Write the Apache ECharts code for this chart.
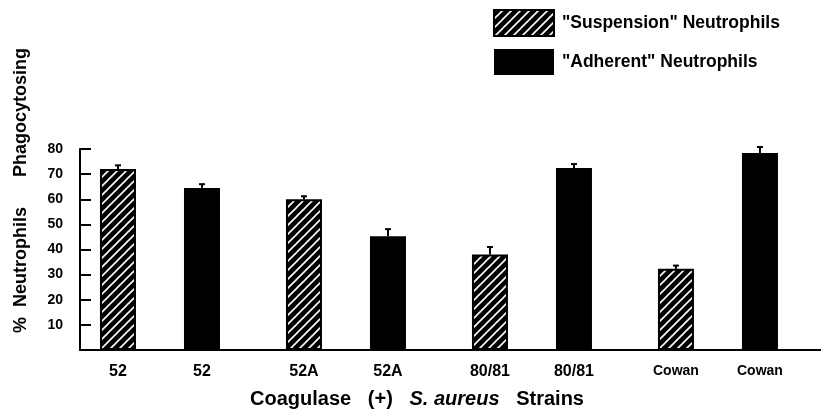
<!DOCTYPE html>
<html><head><meta charset="utf-8">
<script src="https://cdn.jsdelivr.net/npm/echarts@6/dist/echarts.min.js"></script>
<style>html,body{margin:0;padding:0;background:#fff}#c{width:821px;height:419px}</style>
</head><body><div id="c"></div>
<script>
// ---- data ----
const strainLabels = ['52', '52A', '80/81', 'Cowan'];
const groupIndex = [0, 1, 2, 3];
const suspensionValues = [72, 60, 38, 32.3];
const suspensionErr = [1.5, 1.2, 3, 1.3];
const adherentValues = [64.5, 45.3, 72.4, 78.4];
const adherentErr = [1.5, 2.8, 1.6, 2.4];
const yTicks = [10, 20, 30, 40, 50, 60, 70, 80];
const seriesNames = ['"Suspension" Neutrophils', '"Adherent" Neutrophils'];

const FONT = 'Liberation Sans';
const BAR_W = 36, GAP = 48;
const OFFSET = (BAR_W + GAP) / 2;

function hatch() {
  const s = 9;
  const c = document.createElement('canvas'); c.width = s; c.height = s;
  const g = c.getContext('2d');
  g.fillStyle = '#000'; g.fillRect(0, 0, s, s);
  g.strokeStyle = '#fff'; g.lineWidth = 1.6;
  g.beginPath(); g.moveTo(-1, s + 1); g.lineTo(s + 1, -1); g.stroke();
  g.beginPath(); g.moveTo(-1, 1); g.lineTo(1, -1); g.stroke();
  g.beginPath(); g.moveTo(s - 1, s + 1); g.lineTo(s + 1, s - 1); g.stroke();
  return c;
}
const hatchFill = { image: hatch(), repeat: 'repeat' };

function errSeries(vals, errs, sign) {
  return {
    type: 'custom',
    data: groupIndex.map((x, i) => [x, vals[i], errs[i]]),
    z: 5,
    silent: true,
    renderItem(params, api) {
      const x = api.value(0), v = api.value(1), e = api.value(2);
      const p0 = api.coord([x, v]), p1 = api.coord([x, v + e]);
      const cx = p0[0] + sign * OFFSET;
      return { type: 'group', children: [
        { type: 'line', shape: { x1: cx, y1: p0[1], x2: cx, y2: p1[1] }, style: { stroke: '#000', lineWidth: 2 } },
        { type: 'line', shape: { x1: cx - 3, y1: p1[1], x2: cx + 3, y2: p1[1] }, style: { stroke: '#000', lineWidth: 2 } }
      ]};
    }
  };
}

const chart = echarts.init(document.getElementById('c'), null, { renderer: 'canvas' });
chart.setOption({
  animation: false,
  backgroundColor: '#fff',
  textStyle: { fontFamily: FONT, color: '#000', fontWeight: 'bold' },
  grid: { left: 80, right: 0, top: 149, bottom: 69 },
  legend: {
    orient: 'vertical', left: 493, top: 9, padding: 0,
    itemWidth: 60, itemHeight: 26, itemGap: 12,
    icon: 'rect',
    data: seriesNames,
    textStyle: { fontFamily: FONT, fontWeight: 'bold', fontSize: 17.5, color: '#000', padding: [0, 0, 0, 3] }
  },
  xAxis: {
    type: 'value', min: -0.43, max: 3.554,
    splitLine: { show: false },
    axisTick: { show: false },
    axisLine: { onZero: false, lineStyle: { color: '#000', width: 2 } },
    axisLabel: {
      customValues: groupIndex,
      margin: 14,
      formatter: v => {
        const l = strainLabels[Math.round(v)];
        const k = /^[0-9]/.test(l) ? 'n' : 's';
        return '{' + k + '|' + l + '}{' + k + '|' + l + '}';
      },
      rich: {
        n: { width: 84, align: 'center', fontSize: 16, fontWeight: 'bold', fontFamily: FONT, color: '#000' },
        s: { width: 84, align: 'center', fontSize: 14, fontWeight: 'bold', fontFamily: FONT, color: '#000' }
      }
    }
  },
  yAxis: {
    type: 'value', min: 0, max: 80, interval: 10,
    splitLine: { show: false },
    axisLine: { show: true, onZero: false, lineStyle: { color: '#000', width: 2 } },
    axisTick: { show: true, inside: true, length: 11, lineStyle: { color: '#000', width: 2 } },
    axisLabel: {
      margin: 17, fontSize: 14, fontWeight: 'bold', fontFamily: FONT, color: '#000',
      formatter: v => (yTicks.indexOf(v) >= 0 ? String(v) : '')
    }
  },
  graphic: [
    { type: 'text', left: 12, top: 48, rotation: Math.PI / 2,
      style: { text: '%  Neutrophils      Phagocytosing', fontFamily: FONT, fontWeight: 'bold', fontSize: 18, fill: '#000' } },
    { type: 'text', left: 250, top: 389,
      style: {
        text: '{a|Coagulase   (+)   }{b|S. aureus}{a|   Strains}',
        rich: {
          a: { fontFamily: FONT, fontWeight: 'bold', fontSize: 20, fill: '#000' },
          b: { fontFamily: FONT, fontWeight: 'bold', fontStyle: 'italic', fontSize: 20, fill: '#000' }
        }
      } }
  ],
  series: [
    { name: seriesNames[0], type: 'bar', barWidth: BAR_W, barGap: (GAP / BAR_W * 100) + '%',
      data: groupIndex.map((x, i) => [x, suspensionValues[i]]),
      itemStyle: { color: hatchFill, borderColor: '#000', borderWidth: 2 } },
    { name: seriesNames[1], type: 'bar', barWidth: BAR_W, barGap: (GAP / BAR_W * 100) + '%',
      data: groupIndex.map((x, i) => [x, adherentValues[i]]),
      itemStyle: { color: '#000' } },
    errSeries(suspensionValues, suspensionErr, -1),
    errSeries(adherentValues, adherentErr, 1)
  ]
});
</script></body></html>
